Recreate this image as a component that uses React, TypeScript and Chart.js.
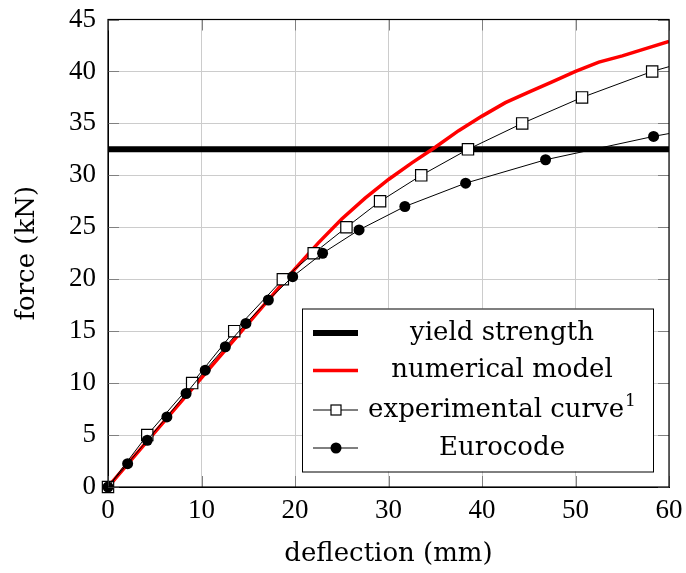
import React, { useEffect, useRef } from "react";
import { Chart, registerables } from "chart.js";

Chart.register(...registerables);

// ---- data ----
const seriesLabels = ["yield strength", "numerical model", "experimental curve", "Eurocode"];
const yieldX = [0, 60];
const yieldY = [32.5, 32.5];
const numX = [0, 5, 10, 15, 20, 22.5, 25, 27.5, 30, 32.5, 35, 37.5, 40, 42.5, 45, 47.5, 50, 52.5, 55, 57.5, 60];
const numY = [0, 5.25, 10.5, 15.75, 21.0, 23.5, 25.8, 27.8, 29.6, 31.2, 32.7, 34.3, 35.7, 37.0, 38.0, 39.0, 40.0, 40.9, 41.5, 42.2, 42.9];
const expX = [0, 4.2, 9.0, 13.5, 18.7, 22.0, 25.5, 29.1, 33.5, 38.5, 44.3, 50.7, 58.2, 68];
const expY = [0, 5, 10, 15, 20, 22.5, 25, 27.5, 30, 32.5, 35, 37.5, 40, 42.5];
const euroX = [0, 2.1, 4.2, 6.3, 8.35, 10.4, 12.55, 14.75, 17.15, 19.75, 22.95, 26.85, 31.75, 38.25, 46.8, 58.35, 72];
const euroY = [0, 2.25, 4.5, 6.75, 9, 11.25, 13.5, 15.75, 18, 20.25, 22.5, 24.75, 27, 29.25, 31.5, 33.75, 36];
const xTickValues = [0, 10, 20, 30, 40, 50, 60];
const yTickValues = [0, 5, 10, 15, 20, 25, 30, 35, 40, 45];
const xTitle = "deflection (mm)";
const yTitle = "force (kN)";

const pts = (xs: number[], ys: number[]) => xs.map((x, i) => ({ x, y: ys[i] }));

const TEXT_FONT = "'DejaVu Serif', serif";
const TICK_FONT = "'Liberation Serif', serif";

const zeroPad = (s: any) => {
  s.paddingTop = 0;
  s.paddingBottom = 0;
  s.paddingLeft = 0;
  s.paddingRight = 0;
};

const framePlugin = {
  id: "frameAndLegend",
  afterDraw(chart: any) {
    const { ctx, chartArea: a, scales } = chart;
    ctx.save();
    // inward tick marks on all four sides
    ctx.strokeStyle = "#808080";
    ctx.lineWidth = 1;
    const tl = 11;
    xTickValues.forEach((v) => {
      const px = Math.round(scales.x.getPixelForValue(v)) + 0.5;
      ctx.beginPath();
      ctx.moveTo(px, a.bottom);
      ctx.lineTo(px, a.bottom - tl);
      ctx.moveTo(px, a.top);
      ctx.lineTo(px, a.top + tl);
      ctx.stroke();
    });
    yTickValues.forEach((v) => {
      const py = Math.round(scales.y.getPixelForValue(v)) + 0.5;
      ctx.beginPath();
      ctx.moveTo(a.left, py);
      ctx.lineTo(a.left + tl, py);
      ctx.moveTo(a.right, py);
      ctx.lineTo(a.right - tl, py);
      ctx.stroke();
    });
    // frame
    ctx.strokeStyle = "#000";
    ctx.lineWidth = 1.2;
    ctx.strokeRect(a.left, a.top, a.right - a.left, a.bottom - a.top);

    // legend
    const w = 351;
    const h = 163;
    const x0 = a.right - 367;
    const y0 = a.bottom - 178.5;
    ctx.fillStyle = "#fff";
    ctx.fillRect(x0, y0, w, h);
    ctx.strokeStyle = "#000";
    ctx.lineWidth = 1;
    ctx.strokeRect(x0 + 0.5, y0 + 0.5, w, h);
    const rows = [24.5, 62, 101.5, 139.5];
    const ds = chart.data.datasets;
    const lx1 = x0 + 11;
    const lx2 = x0 + 56;
    const mx = x0 + 34;
    const tx = x0 + 200;
    ctx.font = `26px ${TEXT_FONT}`;
    ctx.textBaseline = "middle";
    ds.forEach((d: any, i: number) => {
      const y = y0 + rows[i];
      ctx.strokeStyle = d.borderColor;
      ctx.lineWidth = d.borderWidth;
      ctx.beginPath();
      ctx.moveTo(lx1, y);
      ctx.lineTo(lx2, y);
      ctx.stroke();
      if (d.pointStyle === "rect") {
        ctx.fillStyle = "#fff";
        ctx.fillRect(mx - 5, y - 5, 10, 10);
        ctx.strokeStyle = "#000";
        ctx.lineWidth = 1.2;
        ctx.strokeRect(mx - 5, y - 5, 10, 10);
      } else if (d.pointRadius > 0) {
        ctx.fillStyle = "#000";
        ctx.beginPath();
        ctx.arc(mx, y, 5.5, 0, Math.PI * 2);
        ctx.fill();
      }
      ctx.fillStyle = "#000";
      const label = d.label;
      if (i === 2) {
        ctx.font = `26px ${TEXT_FONT}`;
        const mw = ctx.measureText(label).width;
        ctx.font = `17px ${TEXT_FONT}`;
        const sw = ctx.measureText("1").width;
        const total = mw + sw + 1;
        ctx.textAlign = "left";
        ctx.font = `26px ${TEXT_FONT}`;
        ctx.fillText(label, tx - total / 2, y);
        ctx.font = `17px ${TEXT_FONT}`;
        ctx.fillText("1", tx - total / 2 + mw + 1, y - 8);
        ctx.font = `26px ${TEXT_FONT}`;
      } else {
        ctx.textAlign = "center";
        ctx.fillText(label, tx, y);
      }
    });
    ctx.restore();
  },
};

export default function App() {
  const ref = useRef<HTMLCanvasElement | null>(null);
  useEffect(() => {
    if (!ref.current) return;
    const chart = new Chart(ref.current, {
      type: "line",
      data: {
        datasets: [
          {
            label: seriesLabels[0],
            data: pts(yieldX, yieldY),
            borderColor: "#000",
            borderWidth: 6,
            pointRadius: 0,
            order: 4,
            clip: 0,
          },
          {
            label: seriesLabels[1],
            data: pts(numX, numY),
            borderColor: "#ff0000",
            borderWidth: 3.5,
            pointRadius: 0,
            order: 3,
            clip: { left: 4, bottom: 4, right: 0, top: 0 },
          },
          {
            label: seriesLabels[2],
            data: pts(expX, expY),
            borderColor: "#000",
            borderWidth: 1,
            pointStyle: "rect",
            pointRadius: 8,
            pointBorderWidth: 1.2,
            pointBackgroundColor: "#fff",
            pointBorderColor: "#000",
            order: 2,
            clip: { left: 12, bottom: 12, right: 0, top: 0 },
          },
          {
            label: seriesLabels[3],
            data: pts(euroX, euroY),
            borderColor: "#000",
            borderWidth: 1,
            pointStyle: "circle",
            pointRadius: 5.5,
            pointBorderWidth: 0,
            pointBackgroundColor: "#000",
            pointBorderColor: "#000",
            order: 1,
            clip: { left: 12, bottom: 12, right: 0, top: 0 },
          },
        ] as any,
      },
      options: {
        animation: false,
        responsive: false,
        devicePixelRatio: 1,
        layout: { padding: { top: 19.5, right: 17, left: 0, bottom: 0 } },
        elements: { line: { tension: 0 } },
        plugins: {
          legend: { display: false },
          tooltip: { enabled: false },
        },
        scales: {
          x: {
            type: "linear",
            min: 0,
            max: 60,
            afterBuildTicks: (s: any) => {
              s.ticks = xTickValues.map((v) => ({ value: v }));
            },
            afterFit: (s: any) => {
              s.height = 86;
              zeroPad(s);
            },
            ticks: {
              color: "#000",
              font: { family: TICK_FONT, size: 27 },
              padding: 8,
              maxRotation: 0,
            },
            grid: { color: "#cccccc", lineWidth: 1, drawTicks: false },
            border: { color: "#000", width: 1 },
            title: {
              display: true,
              text: xTitle,
              color: "#000",
              font: { family: TEXT_FONT, size: 26 },
              padding: { top: 0, bottom: 3 },
            },
          },
          y: {
            type: "linear",
            min: 0,
            max: 45,
            afterBuildTicks: (s: any) => {
              s.ticks = yTickValues.map((v) => ({ value: v }));
            },
            afterFit: (s: any) => {
              s.width = 108;
              zeroPad(s);
            },
            ticks: {
              color: "#000",
              font: { family: TICK_FONT, size: 27 },
              padding: 12,
            },
            grid: { color: "#cccccc", lineWidth: 1, drawTicks: false },
            border: { color: "#000", width: 1 },
            title: {
              display: true,
              text: yTitle,
              color: "#000",
              font: { family: TEXT_FONT, size: 26 },
              padding: { top: 12, bottom: 0 },
            },
          },
        },
      } as any,
      plugins: [framePlugin],
    });
    return () => chart.destroy();
  }, []);

  return (
    <div style={{ position: "absolute", left: 0, top: 0, width: 686, height: 573, background: "#fff" }}>
      <canvas ref={ref} width={686} height={573} style={{ display: "block" }} />
    </div>
  );
}
